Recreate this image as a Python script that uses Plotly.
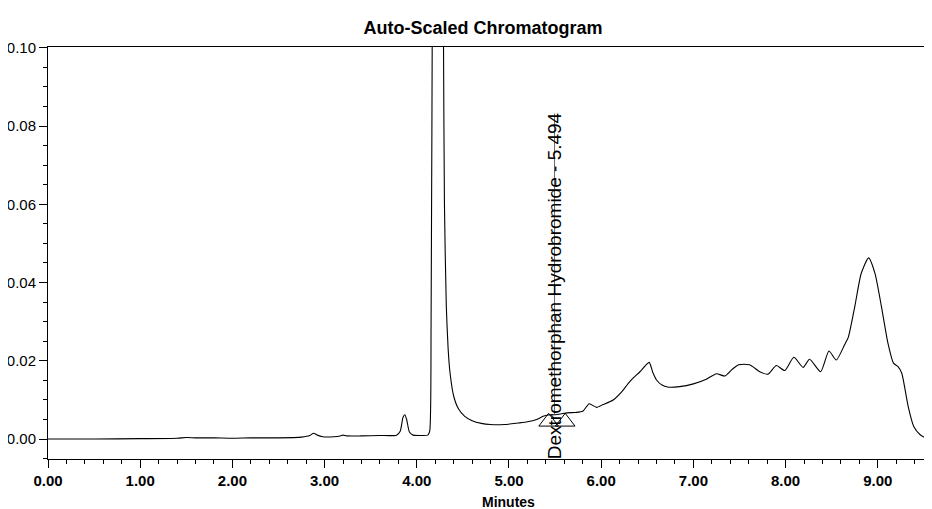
import plotly.graph_objects as go

# Retention time (minutes) and detector response (AU)
time_min = [
    0.00, 0.50, 1.00, 1.40, 1.50, 1.60, 1.80, 2.00, 2.20, 2.50,
    2.75, 2.84, 2.88, 2.92, 2.98, 3.10, 3.17, 3.20, 3.24, 3.40,
    3.60, 3.78, 3.82, 3.85, 3.87, 3.89, 3.92, 3.96, 4.05, 4.12,
    4.14, 4.155, 4.17, 4.20, 4.24, 4.27, 4.29, 4.30, 4.32, 4.34,
    4.36, 4.40, 4.45, 4.52, 4.60, 4.70, 4.80, 4.95, 5.10, 5.20,
    5.30, 5.37, 5.45, 5.50, 5.56, 5.63, 5.72, 5.80, 5.87, 5.95,
    6.02, 6.13, 6.22, 6.31, 6.42, 6.52, 6.56, 6.60, 6.66, 6.72,
    6.85, 7.00, 7.14, 7.25, 7.34, 7.42, 7.49, 7.61, 7.72, 7.81,
    7.90, 7.99, 8.09, 8.19, 8.26, 8.38, 8.47, 8.55, 8.64, 8.68,
    8.75, 8.82, 8.90, 8.97, 9.04, 9.11, 9.17, 9.22, 9.26, 9.33,
    9.39, 9.46, 9.58,
]
response_au = [
    0.0000, 0.0000, 0.0001, 0.0002, 0.0004, 0.0003, 0.0003, 0.0002, 0.0003, 0.0003,
    0.0005, 0.0009, 0.0015, 0.0010, 0.0006, 0.0006, 0.0008, 0.0010, 0.0008, 0.0008,
    0.0009, 0.0010, 0.0020, 0.0055, 0.0062, 0.0050, 0.0018, 0.0010, 0.0009, 0.0010,
    0.0020, 0.0300, 0.1200, 0.2500, 0.3000, 0.2000, 0.1000, 0.0600, 0.0340, 0.0230,
    0.0170, 0.0110, 0.0078, 0.0058, 0.0047, 0.0040, 0.0037, 0.0037, 0.0041, 0.0044,
    0.0050, 0.0058, 0.0062, 0.0062, 0.0064, 0.0067, 0.0068, 0.0071, 0.0090, 0.0081,
    0.0088, 0.0100, 0.0120, 0.0147, 0.0172, 0.0196, 0.0170, 0.0151, 0.0138, 0.0133,
    0.0134, 0.0141, 0.0153, 0.0167, 0.0161, 0.0178, 0.0190, 0.0190, 0.0172, 0.0166,
    0.0188, 0.0175, 0.0209, 0.0183, 0.0204, 0.0172, 0.0225, 0.0202, 0.0241, 0.0260,
    0.0338, 0.0423, 0.0463, 0.0423, 0.0338, 0.0245, 0.0194, 0.0185, 0.0168, 0.0083,
    0.0032, 0.0011, -0.0004,
]

# Peak integration markers (start / end) and labelled peak
marker_times = [5.43, 5.61]
marker_values = [0.0044, 0.0044]
peak_name = "Dextromethorphan Hydrobromide - 5.494"
peak_time = 5.494
peak_value = 0.0062
label_top = 0.0832

y_ticks = [0.00, 0.02, 0.04, 0.06, 0.08, 0.10]
x_ticks = [0, 1, 2, 3, 4, 5, 6, 7, 8, 9]

FONT = "Liberation Sans, Arial, sans-serif"

# The page body has an 8px default margin, so the figure is sized to fit
W, H = 924, 501

fig = go.Figure()
fig.add_trace(go.Scatter(
    x=time_min, y=response_au, mode="lines",
    line=dict(color="black", width=1.1, shape="spline", smoothing=0.6),
    showlegend=False, hoverinfo="x+y",
))
fig.add_trace(go.Scatter(
    x=[peak_time, peak_time], y=[peak_value, label_top], mode="lines",
    line=dict(color="#444", width=0.8), showlegend=False, hoverinfo="skip",
))
fig.add_trace(go.Scatter(
    x=marker_times, y=marker_values, mode="markers",
    marker=dict(symbol="triangle-up-open", size=17, color="black", line=dict(width=1)),
    showlegend=False, hoverinfo="skip",
))

fig.add_annotation(
    x=peak_time, y=(label_top + (-0.0048)) / 2, xref="x", yref="y",
    text=peak_name, textangle=-90, showarrow=False,
    font=dict(family=FONT, size=19, color="black"),
)
fig.add_annotation(
    x=5.0, y=-0.104, xref="x", yref="paper", text="<b>Minutes</b>",
    showarrow=False, yanchor="middle",
    font=dict(family=FONT, size=14, color="black"),
)

fig.update_layout(
    width=W, height=H,
    margin=dict(l=40, r=0, t=39, b=50, autoexpand=False),
    paper_bgcolor="white", plot_bgcolor="white",
    title=dict(text="<b>Auto-Scaled Chromatogram</b>", x=0.492, xref="paper",
               y=1 - 20 / H, yanchor="middle",
               font=dict(family=FONT, size=18, color="black")),
    font=dict(family=FONT, color="black"),
)
fig.update_xaxes(
    range=[0, 9.588], tickvals=x_ticks, ticktext=[f"<b>{v:.2f}</b>" for v in x_ticks],
    ticks="outside", ticklen=8, tickwidth=1, tickcolor="black",
    minor=dict(dtick=0.2, ticks="outside", ticklen=4, tickcolor="black"),
    showline=True, linecolor="black", linewidth=1.2, mirror=True,
    showgrid=False, zeroline=False, automargin=False,
    tickfont=dict(family=FONT, size=15, color="black"),
)
fig.update_yaxes(
    range=[-0.0051, 0.1002], tickvals=y_ticks, ticktext=[f"{v:.2f}" for v in y_ticks],
    ticks="outside", ticklen=8, tickwidth=1, tickcolor="black",
    minor=dict(dtick=0.005, ticks="outside", ticklen=4, tickcolor="black"),
    showline=True, linecolor="black", linewidth=1, mirror=False,
    showgrid=False, zeroline=False, automargin=False,
    tickfont=dict(family=FONT, size=15, color="black"),
)

fig.write_html("out.html")
